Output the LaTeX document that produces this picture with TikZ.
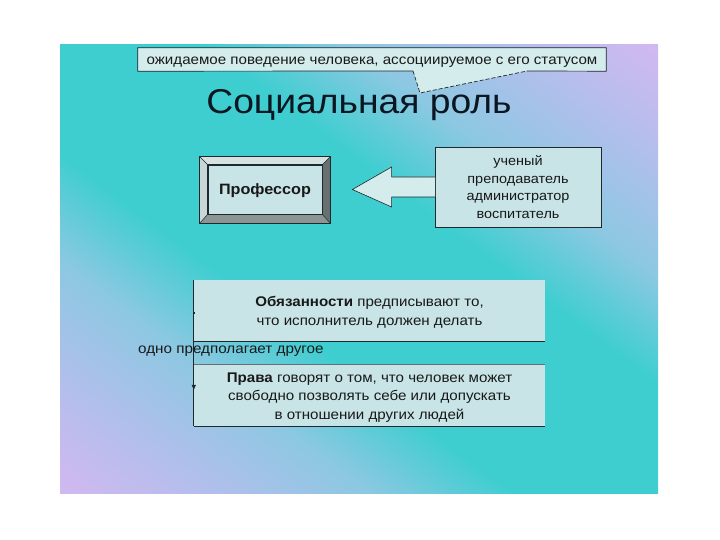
\documentclass[tikz,border=0pt]{standalone}
\usepackage{fontspec}
\setmainfont[FakeStretch=1.08]{Liberation Sans}
\usetikzlibrary{calc}
\definecolor{bgteal}{RGB}{62,206,208}
\definecolor{bglblue}{RGB}{140,200,226}
\definecolor{bglavblue}{RGB}{180,190,236}
\definecolor{bglav}{RGB}{210,184,240}
\definecolor{boxfill}{RGB}{200,228,230}
\definecolor{calloutfill}{RGB}{212,236,236}
\definecolor{edge}{RGB}{30,40,45}
\definecolor{bevtop}{RGB}{214,226,226}
\definecolor{bevleft}{RGB}{200,214,214}
\definecolor{bevdark}{RGB}{104,112,112}
\definecolor{bevmid}{RGB}{140,148,148}
\definecolor{txt}{RGB}{25,25,25}
\definecolor{titletxt}{RGB}{10,22,34}
\pgfdeclareverticalshading{bgshade}{100bp}{color(0bp)=(bglav); color(25bp)=(bglav); color(31bp)=(bglavblue); color(38bp)=(bglblue); color(44bp)=(bgteal); color(56bp)=(bgteal); color(62bp)=(bglblue); color(69bp)=(bglavblue); color(75bp)=(bglav); color(100bp)=(bglav)}
\pgfdeclarelayer{bglayer}
\pgfsetlayers{bglayer,main}
\tikzset{
  callout/.style={draw=none, fill=calloutfill, minimum width=468pt, minimum height=23pt, inner sep=0pt, font=\fontsize{14}{16}\selectfont, text=txt},
  profinner/.style={draw=edge, line width=0.8pt, fill=boxfill, minimum width=114pt, minimum height=49pt, inner sep=0pt, font=\fontsize{15}{17}\selectfont\bfseries, text=txt},
  rolebox/.style={draw=edge, line width=0.8pt, fill=boxfill, minimum width=166pt, minimum height=80pt, inner sep=0pt, align=center, font=\fontsize{13.4}{17.5}\selectfont, text=txt},
  lowbox/.style={fill=boxfill, minimum width=351pt, inner sep=0pt, align=center, font=\fontsize{14}{18.5}\selectfont, text=txt},
  lowtext/.style={inner sep=0pt, align=center, font=\fontsize{14}{18.5}\selectfont, text=txt},
  blockarrow/.style={draw=edge, line width=0.6pt, fill=calloutfill, line join=miter},
  edgeline/.style={draw=edge, line width=0.9pt},
}
\begin{document}
\begin{tikzpicture}[x=1pt,y=-1pt]
\useasboundingbox (0,0) rectangle (720,540);
\begin{pgfonlayer}{bglayer}
\fill[white] (0,0) rectangle (720,540);
\begin{scope}
\clip (60,45) rectangle (658,493);
\begin{scope}[transform canvas={rotate around={-36.8:(359,269)}}]
\shade[shading=bgshade] (-41,-90.5) rectangle (759,628.5);
\end{scope}
\end{scope}
\end{pgfonlayer}

% callout
\node[callout, text height=11pt, text depth=1pt] (callout) at (372,59.5) {ожидаемое поведение человека, ассоциируемое с его статусом};
\coordinate (cl) at (413,71);
\coordinate (cr) at (527,71);
\coordinate (ctip) at (420,93);
\fill[calloutfill] (cl) -- (ctip) -- (cr) -- cycle;
\draw[edge, line width=0.7pt] (cl) -- (callout.south west) -- (callout.north west) -- (callout.north east) -- (callout.south east) -- (cr);
\draw[edge, line width=0.7pt, dashed, dash pattern=on 4pt off 2pt] (cl) -- (ctip) -- (cr);

% title
\node[font=\fontsize{34.5}{40}\selectfont, text=titletxt] (title) at (359,105) {Социальная роль};

% professor bevel box
\node[profinner, text height=11pt, text depth=0pt] (prof) at (265,189.5) {Профессор};
\coordinate (pTL) at ($(prof.north west)+(-8,-8)$);
\coordinate (pTR) at ($(prof.north east)+(8,-8)$);
\coordinate (pBR) at ($(prof.south east)+(8,9)$);
\coordinate (pBL) at ($(prof.south west)+(-8,9)$);
\fill[bevtop] (pTL) -- (pTR) -- (prof.north east) -- (prof.north west) -- cycle;
\fill[bevleft] (pTL) -- (prof.north west) -- (prof.south west) -- (pBL) -- cycle;
\fill[bevdark] (pTR) -- (pBR) -- (prof.south east) -- (prof.north east) -- cycle;
\fill[bevmid] (pBL) -- (prof.south west) -- (prof.south east) -- (pBR) -- cycle;
\draw[edge, line width=0.5pt] (pTL) -- (pTR) -- (pBR) -- (pBL) -- cycle;
\draw[edge, line width=0.5pt] (pTL) -- (prof.north west) (pTR) -- (prof.north east) (pBR) -- (prof.south east) (pBL) -- (prof.south west);
\draw[edge, line width=0.8pt] (prof.north west) rectangle (prof.south east);

% roles box and block arrow
\node[rolebox] (roles) at (518,187) {ученый\\преподаватель\\администратор\\воспитатель};
\coordinate (atip) at ($(prof.east)+(30,0)$);
\filldraw[blockarrow] ($(roles.west)+(0.6,-10)$) -- ($(roles.west)+(-43,-10)$) -- ($(roles.west)+(-43,-20)$) -- (atip) -- ($(roles.west)+(-43,20)$) -- ($(roles.west)+(-43,10)$) -- ($(roles.west)+(0.6,10)$);

% lower boxes
\node[lowbox, minimum height=61pt] (duties) at (369.5,310.5) {};
\node[lowtext] (dutiestext) at (369.5,312.5) {\textbf{Обязанности} предписывают то,\\что исполнитель должен делать};
\node[lowbox, minimum height=62pt] (rights) at (369.5,395) {};
\node[lowtext] (rightstext) at (369.5,397.5) {\textbf{Права} говорят о том, что человек может\\свободно позволять себе или допускать\\в отношении других людей};
\draw[edgeline] (duties.south west) -- (duties.south east);
\draw[edgeline] (rights.south west) -- (rights.south east);
\draw[draw=edge!60!boxfill, line width=0.6pt] (rights.north west) -- (rights.north east);

% connector with label
\draw[edgeline] (duties.north west) -- (rights.south west);
\fill[edge] ($(duties.north west)+(-1.3,31.7)$) rectangle ($(duties.north west)+(1.3,34.3)$);
\fill[edge] ($(rights.north west)+(-2.2,21)$) -- ($(rights.north west)+(2.2,21)$) -- ($(rights.north west)+(0,26)$) -- cycle;
\node[anchor=west, inner sep=0pt, font=\fontsize{14.1}{16}\selectfont, text=txt] (label) at (138,351.5) {одно предполагает другое};
\end{tikzpicture}
\end{document}
